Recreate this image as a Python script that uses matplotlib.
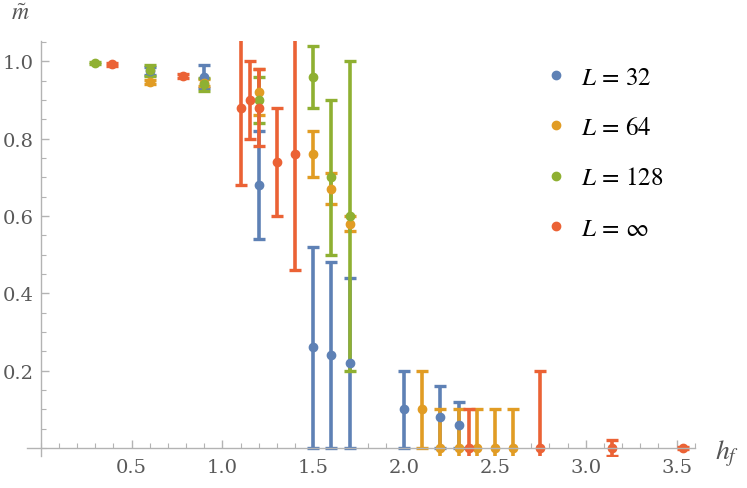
import matplotlib
matplotlib.use('Agg')
import matplotlib.pyplot as plt
from matplotlib.lines import Line2D
from matplotlib.ticker import MultipleLocator, FixedLocator

plt.rcParams['mathtext.fontset'] = 'stix'
plt.rcParams['font.family'] = ['STIXGeneral', 'DejaVu Serif']

# data: (x, m, error) per system size
x32 = [0.6, 0.9, 1.2, 1.5, 1.6, 1.7, 2.0, 2.2, 2.3]
m32 = [0.975, 0.96, 0.68, 0.26, 0.24, 0.22, 0.10, 0.08, 0.06]
e32 = [0.01, 0.03, 0.14, 0.26, 0.24, 0.22, 0.10, 0.08, 0.06]

x64 = [0.6, 0.9, 1.2, 1.5, 1.6, 1.7, 2.1, 2.2, 2.3, 2.4, 2.5, 2.6]
m64 = [0.946, 0.945, 0.92, 0.76, 0.67, 0.58, 0.10, 0.0, 0.0, 0.0, 0.0, 0.0]
e64 = [0.005, 0.01, 0.06, 0.06, 0.04, 0.02, 0.10, 0.10, 0.10, 0.10, 0.10, 0.10]

x128 = [0.3, 0.6, 0.9, 1.2, 1.5, 1.6, 1.7]
m128 = [0.995, 0.977, 0.94, 0.90, 0.96, 0.70, 0.60]
e128 = [0.003, 0.014, 0.017, 0.06, 0.08, 0.20, 0.40]

xinf = [0.39, 0.785, 1.1, 1.15, 1.2, 1.3, 1.4, 2.356, 2.749, 3.142, 3.534]
minf = [0.992, 0.962, 0.88, 0.90, 0.88, 0.74, 0.76, 0.0, 0.0, 0.0, 0.0]
einf = [0.003, 0.005, 0.20, 0.10, 0.10, 0.14, 0.30, 0.10, 0.20, 0.02, 0.002]

labels = [r'$L\,=\,32$', r'$L\,=\,64$', r'$L\,=\,128$', r'$L\,=\,\infty$']
colors = ['#5E81B5', '#E19C24', '#8FB032', '#EB6235']

fig = plt.figure(figsize=(7.47, 4.89), dpi=100)
ax = fig.add_axes([0.0363, 0.0661, 0.8938, 0.8477])

series = [(x32, m32, e32), (x64, m64, e64), (x128, m128, e128), (xinf, minf, einf)]
for (xs, ms, es), c in zip(series, colors):
    ax.errorbar(xs, ms, yerr=es, fmt='o', color=c, ms=6, elinewidth=2.6,
                capsize=4.0, capthick=2.4, mec=c)

ax.set_xlim(-0.075, 3.6)
ax.set_ylim(-0.02, 1.052)

# axes crossing at origin, Mathematica style
for s in ['top', 'right']:
    ax.spines[s].set_visible(False)
for s in ['left', 'bottom']:
    ax.spines[s].set_position(('data', 0))
    ax.spines[s].set_color('#b3b3b3')
    ax.spines[s].set_linewidth(1.0)

ax.xaxis.set_major_locator(FixedLocator([0.5, 1.0, 1.5, 2.0, 2.5, 3.0, 3.5]))
ax.xaxis.set_minor_locator(MultipleLocator(0.1))
ax.yaxis.set_major_locator(FixedLocator([0.2, 0.4, 0.6, 0.8, 1.0]))
ax.yaxis.set_minor_locator(MultipleLocator(0.05))
ax.tick_params(which='both', direction='in', color='#b3b3b3', labelcolor='#595959')
ax.tick_params(which='major', length=5.8, width=1.0)
ax.tick_params(which='minor', length=3.4, width=0.8)
ax.tick_params(axis='x', which='major', pad=7)
ax.tick_params(axis='y', which='major', pad=5)
tick_font = dict(family='DejaVu Serif', size=14)
ax.set_xticklabels(['0.5', '1.0', '1.5', '2.0', '2.5', '3.0', '3.5'], fontdict=tick_font)
ax.set_yticklabels(['0.2', '0.4', '0.6', '0.8', '1.0'], fontdict=tick_font)

fig.text(0.027, 0.971, r'$\tilde{m}$', fontsize=17, color='#555555', ha='center', va='center')
fig.text(0.973, 0.073, r'$h_f$', fontsize=20, color='#555555', ha='center', va='center')

handles = [Line2D([], [], ls='none', marker='o', ms=6, color=c) for c in colors]
ax.legend(handles, labels, loc='upper left', bbox_to_anchor=(0.74, 0.995),
          frameon=False, fontsize=18, labelspacing=1.05, handlelength=1.0,
          handletextpad=0.5)

fig.savefig('out.png', dpi=100)
